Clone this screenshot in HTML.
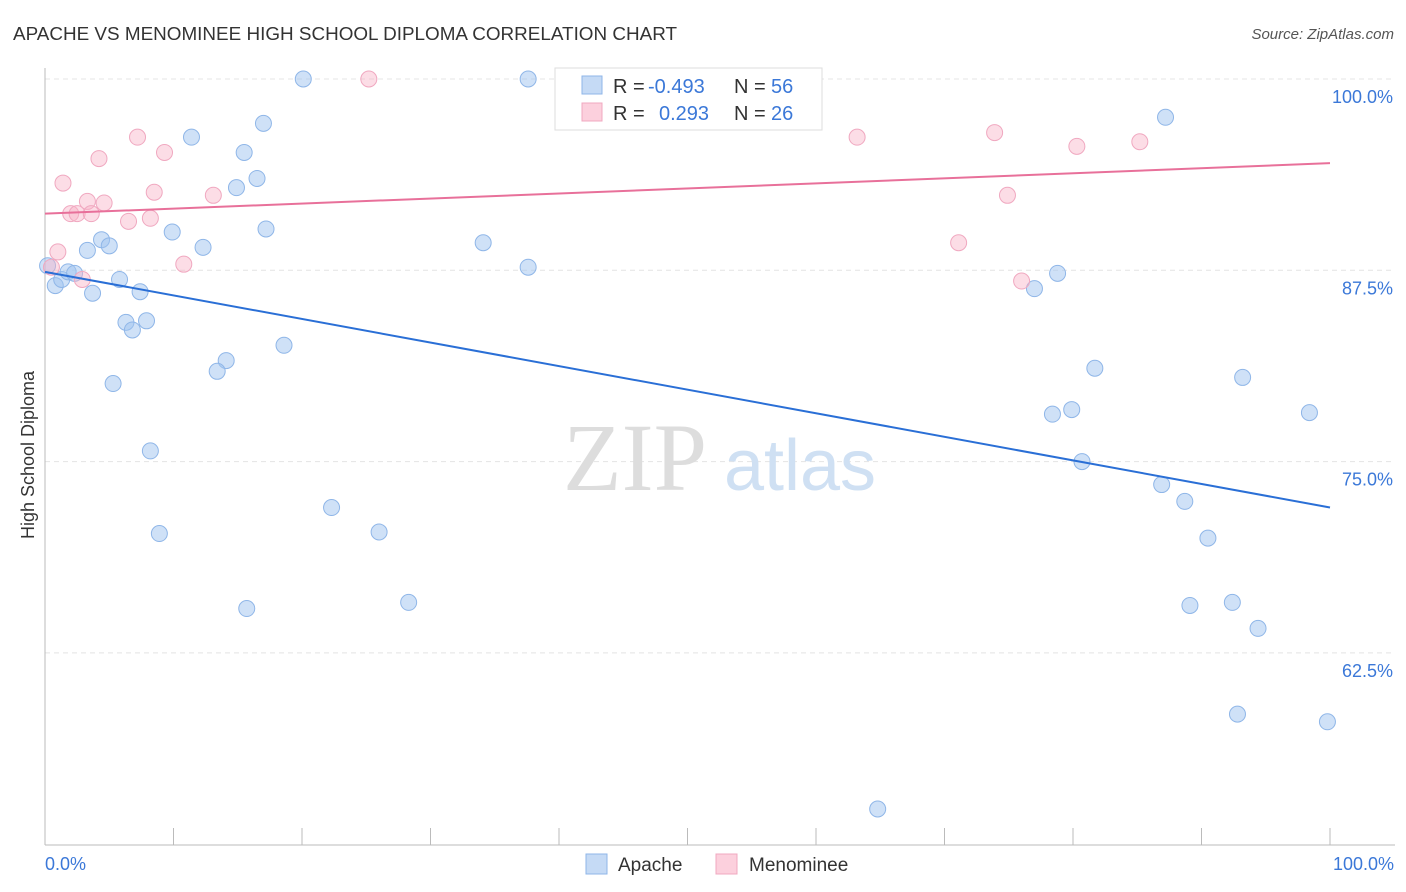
<!DOCTYPE html>
<html><head><meta charset="utf-8"><style>
body{margin:0;background:#fff;font-family:"Liberation Sans",sans-serif}
svg{display:block}
</style></head><body>
<svg id="c" width="1406" height="892" xmlns="http://www.w3.org/2000/svg">
<text x="13" y="40" font-size="18" fill="#333" textLength="664" lengthAdjust="spacingAndGlyphs">APACHE VS MENOMINEE HIGH SCHOOL DIPLOMA CORRELATION CHART</text>
<text x="1394" y="39" font-size="15" fill="#555" font-style="italic" text-anchor="end">Source: ZipAtlas.com</text>
<g id="grid"></g>
<g>
<text x="635" y="490" font-family="Liberation Serif,serif" font-size="96" fill="#ddd" text-anchor="middle">ZIP</text>
<text x="800" y="490" font-size="72" fill="#cfe0f3" text-anchor="middle">atlas</text>
</g>
<text transform="translate(34,455) rotate(-90)" font-size="18" fill="#333" text-anchor="middle">High School Diploma</text>
<g id="marks"></g>
<g>
<rect x="555" y="68" width="267" height="62" fill="#fff" stroke="#ddd"/>
<rect x="582" y="76" width="20" height="18" fill="#c5daf5" stroke="#8fb6e8"/>
<rect x="582" y="103" width="20" height="18" fill="#fcd0dd" stroke="#f0a8c0"/>
<text x="613" y="93" font-size="20" fill="#333">R = <tspan fill="#3b78d8" x="648">-0.493</tspan></text>
<text x="734" y="93" font-size="20" fill="#333">N = <tspan fill="#3b78d8" x="771">56</tspan></text>
<text x="613" y="120" font-size="20" fill="#333">R = <tspan fill="#3b78d8" x="659">0.293</tspan></text>
<text x="734" y="120" font-size="20" fill="#333">N = <tspan fill="#3b78d8" x="771">26</tspan></text>
</g>
<g>
<rect x="586" y="854" width="21" height="20" fill="#c5daf5" stroke="#8fb6e8"/>
<text x="618" y="871" font-size="19" fill="#333">Apache</text>
<rect x="716" y="854" width="21" height="20" fill="#fcd0dd" stroke="#f0a8c0"/>
<text x="749" y="871" font-size="19" fill="#333">Menominee</text>
</g>
<text x="45" y="870" font-size="18" fill="#3b78d8">0.0%</text>
<text x="1394" y="870" font-size="18" fill="#3b78d8" text-anchor="end">100.0%</text>
</svg>
<script>
const yTicks=[100,87.5,75,62.5];
const yTickLabels=["100.0%","87.5%","75.0%","62.5%"];
const apacheX=[20.1,37.6,42.7,87.2,17.0,11.4,15.5,16.5,14.9,9.9,17.2,12.3,4.4,5.0,3.3,34.1,37.6,0.2,0.8,1.3,1.8,2.3,5.8,3.7,7.4,78.8,77.0,6.3,7.9,6.8,18.6,14.1,13.4,5.3,81.7,93.2,78.4,79.9,98.4,8.2,80.7,86.9,22.3,88.7,8.9,26.0,90.5,28.3,15.7,89.1,92.4,94.4,92.8,99.8,64.8];
const apacheY=[100,100,99.8,97.5,97.1,96.2,95.2,93.5,92.9,90.0,90.2,89.0,89.5,89.1,88.8,89.3,87.7,87.8,86.5,86.9,87.4,87.3,86.9,86.0,86.1,87.3,86.3,84.1,84.2,83.6,82.6,81.6,80.9,80.1,81.1,80.5,78.1,78.4,78.2,75.7,75.0,73.5,72.0,72.4,70.3,70.4,70.0,65.8,65.4,65.6,65.8,64.1,58.5,58.0,52.3];
const menX=[25.2,7.2,9.3,1.4,4.2,8.5,13.1,3.3,4.6,2.0,2.5,3.6,6.5,8.2,1.0,0.5,2.9,10.8,63.2,73.9,80.3,85.2,74.9,71.1,76.0];
const menY=[100,96.2,95.2,93.2,94.8,92.6,92.4,92.0,91.9,91.2,91.2,91.2,90.7,90.9,88.7,87.7,86.9,87.9,96.2,96.5,95.6,95.9,92.4,89.3,86.8];
const apacheTrend=[87.4,72.0];
const menTrend=[91.2,94.5];
const NS="http://www.w3.org/2000/svg";
const sx=v=>45+v*12.85;
const sy=v=>79+(100-v)*191.3/12.5;
function mk(t,a,p){const e=document.createElementNS(NS,t);for(const k in a)e.setAttribute(k,a[k]);p.appendChild(e);return e;}
const g=document.getElementById('grid'),m=document.getElementById('marks');
yTicks.forEach((t,i)=>{
 const l=mk('line',{x1:45,x2:1395,y1:sy(t),y2:sy(t),stroke:'#e4e4e4','stroke-dasharray':'5,4'},g);
 
 
 const tx=mk('text',{x:1393,y:sy(t)+24,'font-size':18,fill:'#3b78d8','text-anchor':'end'},g);
 tx.textContent=yTickLabels[i];
 
 
});
const ax=mk('line',{x1:45,x2:45,y1:68,y2:845,stroke:'#bbb'},g);


const bx=mk('line',{x1:45,x2:1395,y1:845,y2:845,stroke:'#bbb'},g);


for(let i=0;i<=10;i++){const t=mk('line',{x1:sx(i*10),x2:sx(i*10),y1:828,y2:845,stroke:'#bbb'},g);
 
 }
apacheX.forEach((x,i)=>{const c=mk('circle',{cx:sx(x),cy:sy(apacheY[i]),r:8,fill:'rgba(160,196,240,0.5)',stroke:'#8fb6e8','stroke-width':1},m);
 
 });
menX.forEach((x,i)=>{const c=mk('circle',{cx:sx(x),cy:sy(menY[i]),r:8,fill:'rgba(248,180,200,0.45)',stroke:'#f0a8c0','stroke-width':1},m);
 
 });
const l1=mk('line',{x1:sx(0),x2:sx(100),y1:sy(apacheTrend[0]),y2:sy(apacheTrend[1]),stroke:'#2a6fd6','stroke-width':2},m);


const l2=mk('line',{x1:sx(0),x2:sx(100),y1:sy(menTrend[0]),y2:sy(menTrend[1]),stroke:'#e8709a','stroke-width':2},m);


</script>
</body></html>
